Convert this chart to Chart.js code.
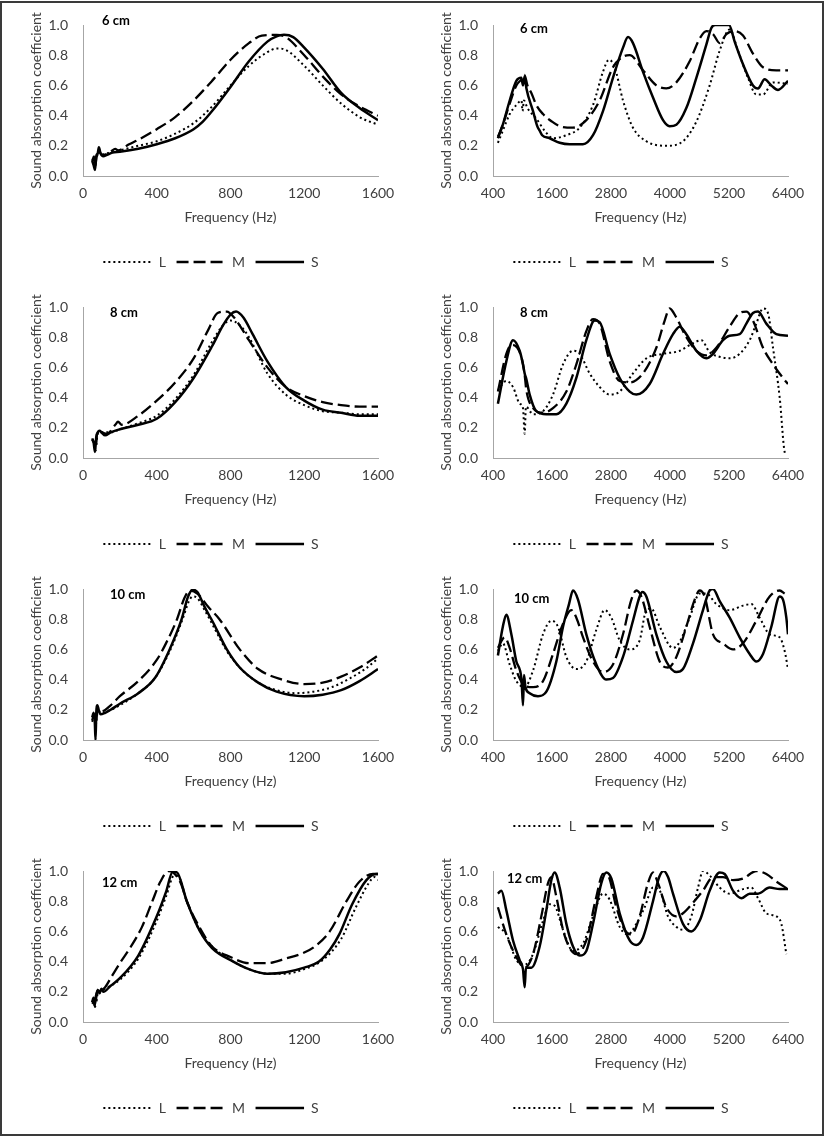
<!DOCTYPE html>
<html>
<head>
<meta charset="utf-8">
<script src="https://cdn.jsdelivr.net/npm/chart.js@4.4.1/dist/chart.umd.min.js"></script>
<style>
    body { margin: 0; background: #fff; }
    #frame { position: absolute; left: 0; top: 1px; width: 820px; height: 1131px; border: 2px solid #3a3a3a; }
    .panel { position: absolute; width: 410px; height: 282px; }
</style>
</head>
<body>
<div id="frame"></div>
<div class="panel" style="left:0;top:0"><canvas id="low6"></canvas></div>
<div class="panel" style="left:410px;top:0"><canvas id="high6"></canvas></div>
<div class="panel" style="left:0;top:282px"><canvas id="low8"></canvas></div>
<div class="panel" style="left:410px;top:282px"><canvas id="high8"></canvas></div>
<div class="panel" style="left:0;top:564px"><canvas id="low10"></canvas></div>
<div class="panel" style="left:410px;top:564px"><canvas id="high10"></canvas></div>
<div class="panel" style="left:0;top:846px"><canvas id="low12"></canvas></div>
<div class="panel" style="left:410px;top:846px"><canvas id="high12"></canvas></div>
<script>
const seriesNames = ["L", "M", "S"];
const thickness = ["6 cm", "8 cm", "10 cm", "12 cm"];

// left column: 0 - 1600 Hz, pairs of [frequency, coefficient]
const low6L = [[50,0.11],[60,0.09],[70,0.12],[80,0.14],[90,0.16],[100,0.14],[130,0.15],[160,0.16],[200,0.17],[300,0.20],[400,0.23],[500,0.28],[600,0.35],[700,0.46],[800,0.60],[900,0.73],[1000,0.82],[1050,0.845],[1100,0.835],[1200,0.73],[1300,0.60],[1400,0.48],[1500,0.39],[1600,0.34]];
const low6M = [[50,0.10],[60,0.13],[65,0.06],[75,0.14],[85,0.18],[95,0.15],[110,0.14],[150,0.16],[175,0.18],[190,0.17],[250,0.21],[300,0.24],[400,0.31],[500,0.39],[600,0.50],[700,0.63],[800,0.77],[900,0.88],[970,0.93],[1050,0.935],[1100,0.92],[1200,0.80],[1300,0.66],[1400,0.54],[1500,0.46],[1600,0.40]];
const low6S = [[50,0.10],[58,0.07],[65,0.04],[72,0.13],[80,0.15],[86,0.19],[95,0.15],[110,0.13],[130,0.14],[160,0.155],[200,0.16],[300,0.18],[400,0.21],[500,0.25],[600,0.31],[650,0.36],[700,0.43],[800,0.59],[900,0.76],[1000,0.89],[1050,0.925],[1090,0.935],[1140,0.92],[1200,0.85],[1300,0.71],[1400,0.55],[1500,0.45],[1600,0.37]];

const low8L = [[50,0.11],[60,0.12],[70,0.08],[80,0.16],[100,0.17],[150,0.17],[200,0.19],[300,0.23],[400,0.28],[500,0.39],[600,0.55],[700,0.77],[760,0.88],[800,0.91],[850,0.88],[900,0.80],[1000,0.56],[1100,0.42],[1200,0.35],[1300,0.31],[1400,0.30],[1500,0.29],[1600,0.29]];
const low8M = [[50,0.12],[60,0.10],[68,0.05],[75,0.15],[85,0.18],[100,0.17],[130,0.16],[175,0.22],[190,0.24],[210,0.22],[300,0.28],[400,0.38],[500,0.50],[600,0.66],[680,0.85],[730,0.96],[780,0.97],[820,0.93],[900,0.78],[1000,0.60],[1100,0.47],[1200,0.41],[1300,0.37],[1400,0.35],[1500,0.34],[1600,0.34]];
const low8S = [[50,0.13],[58,0.10],[65,0.04],[72,0.14],[80,0.17],[90,0.18],[100,0.17],[120,0.15],[150,0.17],[200,0.19],[300,0.22],[400,0.26],[500,0.37],[600,0.53],[700,0.74],[760,0.88],[800,0.95],[830,0.97],[870,0.93],[920,0.82],[1000,0.64],[1100,0.47],[1200,0.38],[1300,0.32],[1400,0.30],[1500,0.28],[1600,0.28]];

const low10L = [[50,0.12],[60,0.16],[70,0.10],[80,0.19],[100,0.18],[150,0.20],[200,0.23],[300,0.31],[390,0.41],[475,0.60],[540,0.80],[575,0.92],[595,0.95],[620,0.94],[660,0.86],[700,0.77],[780,0.59],[850,0.48],[950,0.38],[1050,0.33],[1150,0.31],[1250,0.32],[1350,0.35],[1450,0.41],[1530,0.47],[1600,0.54]];
const low10M = [[50,0.13],[60,0.17],[70,0.12],[80,0.21],[100,0.19],[150,0.23],[200,0.29],[300,0.39],[400,0.53],[450,0.64],[510,0.80],[550,0.94],[580,0.99],[620,0.97],[680,0.88],[740,0.80],[850,0.60],[950,0.47],[1080,0.40],[1200,0.37],[1300,0.38],[1400,0.42],[1500,0.48],[1600,0.56]];
const low10S = [[50,0.15],[58,0.18],[64,0.12],[68,0.0],[72,0.18],[78,0.23],[85,0.20],[95,0.17],[120,0.18],[150,0.20],[200,0.24],[300,0.31],[390,0.41],[470,0.60],[535,0.80],[570,0.95],[595,0.995],[620,0.98],[660,0.88],[705,0.78],[780,0.60],[850,0.48],[950,0.38],[1050,0.32],[1200,0.29],[1300,0.30],[1400,0.33],[1500,0.39],[1600,0.47]];

const low12L = [[50,0.12],[60,0.14],[70,0.12],[80,0.19],[100,0.21],[150,0.24],[200,0.28],[300,0.42],[400,0.67],[450,0.83],[495,0.97],[520,0.96],[563,0.80],[635,0.60],[700,0.50],[815,0.40],[900,0.35],[1000,0.32],[1100,0.32],[1200,0.35],[1300,0.41],[1400,0.55],[1480,0.76],[1550,0.92],[1580,0.96],[1600,0.94]];
const low12M = [[50,0.13],[58,0.15],[65,0.10],[75,0.19],[90,0.22],[100,0.21],[120,0.23],[150,0.29],[200,0.39],[260,0.50],[320,0.63],[373,0.79],[420,0.93],[464,1.0],[490,0.99],[530,0.92],[563,0.80],[635,0.62],[700,0.50],[800,0.43],[900,0.39],[1000,0.39],[1100,0.42],[1200,0.46],[1257,0.50],[1338,0.60],[1429,0.80],[1500,0.93],[1573,0.98],[1600,0.98]];
const low12S = [[50,0.13],[57,0.16],[63,0.11],[70,0.17],[80,0.21],[90,0.19],[100,0.22],[110,0.20],[150,0.24],[200,0.29],[300,0.44],[400,0.70],[450,0.86],[487,0.995],[510,0.99],[563,0.80],[635,0.60],[700,0.49],[815,0.40],[900,0.35],[1000,0.32],[1100,0.33],[1200,0.36],[1280,0.40],[1340,0.48],[1390,0.58],[1460,0.78],[1537,0.94],[1590,0.98],[1600,0.98]];

// right column: 400 - 6400 Hz
const high6L = [[500,0.22],[600,0.30],[740,0.41],[875,0.47],[980,0.50],[1000,0.43],[1030,0.50],[1100,0.45],[1281,0.38],[1450,0.30],[1620,0.25],[1892,0.27],[2163,0.32],[2434,0.47],[2637,0.69],[2759,0.77],[2875,0.72],[3044,0.50],[3247,0.32],[3519,0.23],[3925,0.20],[4264,0.23],[4536,0.36],[4807,0.60],[5010,0.83],[5214,0.97],[5383,0.83],[5586,0.65],[5756,0.54],[5892,0.54],[6095,0.62],[6400,0.61]];
const high6M = [[500,0.26],[600,0.34],[740,0.48],[875,0.60],[980,0.64],[1040,0.67],[1100,0.60],[1180,0.55],[1281,0.47],[1417,0.41],[1600,0.36],[1756,0.33],[2027,0.32],[2298,0.37],[2569,0.50],[2840,0.72],[3044,0.79],[3180,0.80],[3451,0.70],[3722,0.60],[3925,0.58],[4129,0.62],[4400,0.76],[4603,0.91],[4739,0.96],[4875,0.94],[5010,0.88],[5146,0.94],[5315,0.96],[5485,0.93],[5688,0.81],[5892,0.72],[6163,0.70],[6400,0.70]];
const high6S = [[500,0.25],[600,0.34],[740,0.50],[875,0.63],[976,0.65],[1010,0.60],[1044,0.66],[1080,0.58],[1214,0.43],[1300,0.33],[1349,0.30],[1400,0.27],[1553,0.25],[1756,0.22],[1960,0.21],[2230,0.21],[2434,0.27],[2637,0.43],[2840,0.65],[3044,0.85],[3146,0.92],[3247,0.88],[3451,0.69],[3654,0.52],[3858,0.37],[3993,0.33],[4129,0.34],[4332,0.45],[4536,0.65],[4739,0.87],[4841,0.98],[4920,1.0],[5200,1.0],[5315,0.89],[5485,0.74],[5688,0.60],[5790,0.58],[5925,0.64],[6061,0.60],[6197,0.57],[6400,0.63]];

const high8L = [[500,0.45],[671,0.51],[807,0.47],[942,0.36],[1010,0.33],[1044,0.16],[1070,0.34],[1214,0.29],[1417,0.31],[1620,0.42],[1824,0.62],[2027,0.71],[2163,0.69],[2366,0.56],[2569,0.47],[2773,0.42],[2976,0.44],[3247,0.56],[3519,0.66],[3858,0.69],[4197,0.71],[4468,0.76],[4637,0.78],[4807,0.70],[5010,0.67],[5214,0.66],[5417,0.69],[5620,0.78],[5756,0.89],[5892,0.99],[5993,0.96],[6095,0.73],[6231,0.40],[6332,0.04],[6370,0.02]];
const high8M = [[500,0.44],[671,0.69],[780,0.75],[976,0.67],[1044,0.55],[1078,0.45],[1214,0.33],[1417,0.30],[1620,0.33],[1892,0.44],[2095,0.62],[2298,0.84],[2434,0.92],[2569,0.89],[2773,0.64],[2976,0.51],[3180,0.50],[3451,0.56],[3722,0.73],[3892,0.91],[3993,0.99],[4129,0.93],[4332,0.80],[4536,0.71],[4739,0.68],[4942,0.73],[5214,0.87],[5417,0.96],[5553,0.97],[5688,0.91],[5892,0.73],[6095,0.62],[6298,0.53],[6400,0.49]];
const high8S = [[500,0.36],[671,0.64],[807,0.78],[942,0.71],[1010,0.62],[1044,0.56],[1080,0.52],[1146,0.42],[1281,0.31],[1485,0.29],[1688,0.29],[1892,0.36],[2095,0.53],[2298,0.78],[2468,0.91],[2569,0.90],[2773,0.69],[2976,0.53],[3180,0.44],[3315,0.42],[3586,0.49],[3858,0.69],[4061,0.82],[4197,0.87],[4332,0.82],[4536,0.71],[4739,0.66],[4875,0.69],[5078,0.78],[5214,0.81],[5417,0.82],[5553,0.89],[5688,0.96],[5790,0.97],[5959,0.89],[6163,0.82],[6400,0.81]];

const high10L = [[500,0.59],[600,0.64],[739,0.50],[875,0.39],[1044,0.35],[1214,0.46],[1417,0.70],[1587,0.79],[1722,0.75],[1892,0.55],[2095,0.47],[2298,0.52],[2502,0.73],[2671,0.86],[2807,0.81],[2976,0.66],[3180,0.60],[3383,0.66],[3519,0.86],[3620,0.87],[3790,0.75],[4061,0.61],[4197,0.65],[4400,0.81],[4603,0.97],[4739,0.97],[4942,0.90],[5214,0.86],[5485,0.89],[5654,0.90],[5824,0.81],[6027,0.70],[6231,0.68],[6332,0.59],[6400,0.47]];
const high10M = [[500,0.61],[637,0.68],[739,0.61],[875,0.46],[1044,0.36],[1214,0.35],[1417,0.39],[1620,0.57],[1824,0.77],[1993,0.86],[2095,0.81],[2231,0.68],[2434,0.52],[2637,0.45],[2840,0.50],[3044,0.70],[3214,0.93],[3315,0.99],[3417,0.95],[3586,0.75],[3790,0.52],[3959,0.48],[4129,0.55],[4332,0.75],[4502,0.93],[4603,0.99],[4705,0.95],[4875,0.70],[5078,0.64],[5281,0.60],[5485,0.64],[5756,0.79],[6027,0.95],[6231,0.99],[6332,0.97]];
const high10S = [[500,0.56],[600,0.75],[671,0.83],[773,0.70],[875,0.52],[980,0.40],[1010,0.23],[1030,0.43],[1060,0.35],[1146,0.31],[1315,0.29],[1485,0.32],[1688,0.52],[1824,0.75],[1946,0.90],[2027,0.99],[2129,0.93],[2298,0.70],[2502,0.50],[2705,0.40],[2841,0.41],[3044,0.55],[3247,0.79],[3383,0.95],[3437,0.98],[3519,0.95],[3722,0.70],[3925,0.52],[4129,0.45],[4264,0.47],[4468,0.64],[4671,0.86],[4807,0.99],[4875,1.0],[5010,0.92],[5214,0.81],[5417,0.68],[5620,0.57],[5756,0.52],[5892,0.57],[6061,0.75],[6231,0.95],[6298,0.93],[6366,0.81],[6400,0.70]];

const high12L = [[500,0.63],[671,0.58],[875,0.41],[1044,0.38],[1214,0.45],[1417,0.67],[1553,0.78],[1654,0.77],[1824,0.61],[2027,0.47],[2231,0.52],[2434,0.70],[2637,0.85],[2773,0.81],[2976,0.63],[3146,0.58],[3315,0.65],[3485,0.76],[3654,0.89],[3790,0.87],[3959,0.70],[4129,0.63],[4264,0.61],[4434,0.70],[4570,0.89],[4671,1.0],[4807,0.97],[5010,0.89],[5214,0.85],[5485,0.88],[5654,0.89],[5790,0.82],[5959,0.72],[6163,0.70],[6265,0.65],[6366,0.45]];
const high12M = [[500,0.76],[671,0.58],[875,0.43],[1044,0.36],[1214,0.45],[1383,0.70],[1519,0.92],[1587,0.96],[1688,0.83],[1824,0.61],[1960,0.49],[2095,0.45],[2298,0.54],[2502,0.83],[2637,0.98],[2739,0.97],[2909,0.76],[3078,0.61],[3214,0.58],[3383,0.70],[3552,0.92],[3654,0.99],[3756,0.92],[3925,0.76],[4129,0.70],[4264,0.72],[4468,0.79],[4671,0.87],[4875,0.96],[5078,0.96],[5281,0.94],[5485,0.95],[5756,1.0],[5959,0.98],[6163,0.93],[6400,0.88]];
const high12S = [[500,0.85],[570,0.87],[671,0.74],[807,0.54],[942,0.41],[1010,0.35],[1044,0.23],[1070,0.36],[1180,0.36],[1349,0.50],[1485,0.74],[1587,0.94],[1654,0.99],[1756,0.89],[1892,0.65],[2027,0.50],[2163,0.44],[2298,0.47],[2434,0.65],[2603,0.92],[2705,0.99],[2807,0.95],[2976,0.72],[3180,0.54],[3315,0.51],[3451,0.56],[3654,0.80],[3780,0.96],[3870,1.0],[3960,0.96],[4061,0.85],[4264,0.65],[4434,0.60],[4603,0.67],[4807,0.87],[5010,0.99],[5112,0.98],[5281,0.87],[5451,0.82],[5620,0.85],[5790,0.85],[6027,0.89],[6231,0.88],[6400,0.88]];

const lowTicks = { min: 0, max: 1600, stepSize: 400 };
const highTicks = { min: 400, max: 6400, stepSize: 1200 };

const textColor = '#404040';
const axisColor = '#a6a6a6';
const fontFamily = 'Lato, "Liberation Sans", sans-serif';

// legend sample is a zero-height box of 48.5px; these dash patterns
// come back in phase on the return stroke so the sample stays clean
const lineStyles = [
    { borderWidth: 2, borderDash: [2, 3] },
    { borderWidth: 2.3, borderDash: [12, 5] },
    { borderWidth: 2.5, borderDash: [] }
];

// bold "6 cm" style tag inside the plot area
const tagPlugin = {
    id: 'tag',
    afterDraw(chart, args, opts) {
        const { ctx, chartArea } = chart;
        ctx.save();
        ctx.font = 'bold 13px ' + fontFamily;
        ctx.fillStyle = '#000';
        ctx.textBaseline = 'middle';
        ctx.fillText(opts.text, chartArea.left + opts.dx, chartArea.top + opts.dy);
        ctx.restore();
    }
};

function makeChart(id, series, range, tag, dx, dy) {
    const datasets = series.map((pts, i) => ({
        label: seriesNames[i],
        data: pts.map(p => ({ x: p[0], y: p[1] })),
        borderColor: '#000',
        backgroundColor: '#000',
        fill: false,
        pointRadius: 0,
        cubicInterpolationMode: 'monotone',
        ...lineStyles[i]
    }));

    return new Chart(document.getElementById(id), {
        type: 'line',
        data: { datasets: datasets },
        plugins: [tagPlugin],
        options: {
            responsive: true,
            maintainAspectRatio: false,
            animation: false,
            layout: { padding: { left: 44, right: 32, top: 25, bottom: 3 } },
            plugins: {
                legend: {
                    position: 'bottom',
                    labels: {
                        boxWidth: 48.5,
                        boxHeight: 0,
                        padding: 10.5,
                        color: textColor,
                        font: { family: fontFamily, size: 14 }
                    }
                },
                tooltip: { enabled: false },
                tag: { text: tag, dx: dx, dy: dy }
            },
            scales: {
                x: {
                    type: 'linear',
                    min: range.min,
                    max: range.max,
                    grid: { display: false, drawTicks: false },
                    border: { color: axisColor },
                    ticks: {
                        stepSize: range.stepSize,
                        padding: 9,
                        maxRotation: 0,
                        color: textColor,
                        font: { family: fontFamily, size: 14 },
                        callback: v => String(v)
                    },
                    title: {
                        display: true,
                        text: 'Frequency (Hz)',
                        color: textColor,
                        font: { family: fontFamily, size: 14 },
                        padding: { top: 0, bottom: 19.1 }
                    },
                    afterFit: axis => { axis.height = 68.5; }
                },
                y: {
                    min: 0,
                    max: 1,
                    grid: { display: false, drawTicks: false },
                    border: { color: axisColor },
                    ticks: {
                        stepSize: 0.2,
                        padding: 15,
                        color: textColor,
                        font: { family: fontFamily, size: 14 },
                        callback: v => v.toFixed(1)
                    },
                    title: {
                        display: true,
                        text: 'Sound absorption coefficient',
                        color: textColor,
                        font: { family: fontFamily, size: 14 },
                        padding: { top: -16.4, bottom: 0 }
                    },
                    afterFit: axis => { axis.width = 39; }
                }
            }
        }
    });
}

makeChart('low6', [low6L, low6M, low6S], lowTicks, thickness[0], 19, -4);
makeChart('high6', [high6L, high6M, high6S], highTicks, thickness[0], 27, 4);
makeChart('low8', [low8L, low8M, low8S], lowTicks, thickness[1], 27, 6);
makeChart('high8', [high8L, high8M, high8S], highTicks, thickness[1], 27, 6);
makeChart('low10', [low10L, low10M, low10S], lowTicks, thickness[2], 27, 6);
makeChart('high10', [high10L, high10M, high10S], highTicks, thickness[2], 21, 10);
makeChart('low12', [low12L, low12M, low12S], lowTicks, thickness[3], 19, 12);
makeChart('high12', [high12L, high12M, high12S], highTicks, thickness[3], 14, 8);
</script>
</body>
</html>
